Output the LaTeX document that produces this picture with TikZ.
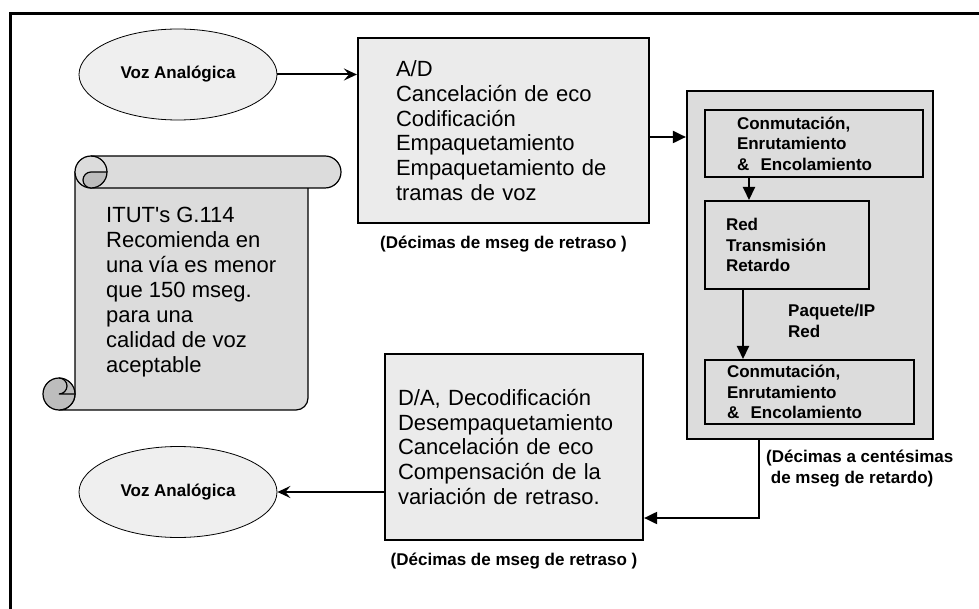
\documentclass[tikz,border=0pt]{standalone}
\usepackage{fontspec}
\setmainfont{Liberation Sans}
\usetikzlibrary{shapes.geometric,positioning,arrows.meta}
\definecolor{grisA}{HTML}{EBEBEB}
\definecolor{grisB}{HTML}{DCDCDC}
\definecolor{grisC}{HTML}{EFEFEF}
\definecolor{grisD}{HTML}{BDBDBD}

\begin{document}
\begin{tikzpicture}[x=1pt,y=1pt,
  caja/.style={draw,line width=2.2pt,fill=grisA,align=left,inner ysep=0pt,
    font=\fontsize{22}{24.7}\selectfont},
  interior/.style={draw,line width=2pt,fill=grisB,align=left,inner ysep=0pt,
    font=\bfseries\fontsize{17}{20.5}\selectfont},
  voz/.style={ellipse,draw,line width=0.8pt,fill=grisC,minimum width=198pt,
    minimum height=91pt,inner sep=0pt,font=\bfseries\fontsize{17}{20}\selectfont},
  etiq/.style={inner sep=0pt,align=left,font=\bfseries\fontsize{17}{20.5}\selectfont},
  rollo/.style={draw,line width=1.2pt,fill=grisB},
  flecha/.style={line width=2pt,-{Triangle[length=13pt,width=12pt]}},
  flechab/.style={line width=2pt,-{Stealth[length=13pt,width=12pt,inset=5pt]}}]
  \useasboundingbox (0,0) rectangle (979,608);
  \draw[line width=3pt] (990,594) -- (10,594) -- (10,-10);

  % pergamino
  \path[rollo] (75,436) -- (75,214) arc[start angle=0,end angle=-90,radius=16]
    -- (296,198) arc[start angle=-90,end angle=0,radius=12] -- (308,436) -- cycle;
  \filldraw[rollo,fill=grisD] (59,214) circle[radius=16];
  \draw[line width=1.2pt] (75,214) -- (59,214) arc[start angle=-90,end angle=90,radius=8];
  \path[rollo] (91,452) -- (325,452) arc[start angle=90,end angle=-90,radius=16]
    -- (91,420) arc[start angle=270,end angle=90,radius=16] -- cycle;
  \draw[line width=1.2pt] (91,452) arc[start angle=90,end angle=0,radius=16];
  \path[rollo,fill=grisD] (107,436) -- (91,436) arc[start angle=90,end angle=270,radius=8]
    arc[start angle=270,end angle=360,radius=16] -- cycle;
  \node[inner sep=0pt,align=left,anchor=west,font=\fontsize{22}{25}\selectfont] (itut)
    at (106,315.7) {ITUT\textquotesingle s G.114\\Recomienda en\\una vía es menor\\
    que 150 mseg.\\para una\\calidad de voz\\aceptable};

  \node[voz] (vozin) at (178,533.5) {Voz Analógica};
  \node[voz] (vozout) at (178,116) {Voz Analógica};

  \node[caja,inner xsep=38pt,text width=215pt,minimum height=185pt] (ad) at (503.5,477.5)
    {A/D\\Cancelación de eco\\Codificación\\Empaquetamiento\\Empaquetamiento de\\tramas de voz};
  \node[etiq,below=12pt of ad] (retraso1) {(Décimas de mseg de retraso )};

  \node[caja,inner xsep=13pt,text width=232pt,minimum height=186pt] (da) at (514,161)
    {D/A, Decodificación\\Desempaquetamiento\\Cancelación de eco\\Compensación de la\\variación de retraso.};
  \node[etiq,below=12pt of da] (retraso2) {(Décimas de mseg de retraso )};

  \node[draw,line width=2.2pt,fill=grisB,minimum width=246pt,minimum height=348pt] (red) at (810,343) {};
  \node[interior,inner xsep=32pt,text width=154pt,minimum height=67pt] (conm1) at (814,464.5)
    {Conmutación,\\Enrutamiento\\\&~~Encolamiento};
  \node[interior,inner xsep=21pt,text width=122pt,minimum height=88pt] (trans) at (787,363)
    {Red\\Transmisión\\Retardo};
  \node[interior,inner xsep=22pt,text width=165pt,minimum height=64pt] (conm2) at (809.5,216)
    {Conmutación,\\Enrutamiento\\\&~~Encolamiento};
  \node[etiq,anchor=north west] (paquete) at (788,304) {Paquete/IP\\Red};
  \node[etiq,anchor=north west] (retardo) at (766,158) {(Décimas a centésimas\\~de mseg de retardo)};

  \coordinate (codo) at (759,90);
  \draw[flechab] (vozin.east) -- (vozin.east -| ad.west);
  \draw[flecha] ([yshift=-6.5pt]ad.east) -- ([yshift=-6.5pt]ad.east -| red.west);
  \draw[flecha] ([xshift=45pt]trans.north west |- conm1.south) -- ([xshift=45pt]trans.north west);
  \draw[flecha] ([xshift=39pt]trans.south west) -- ([xshift=39pt]trans.south west |- conm2.north);
  \draw[flecha] (red.south -| codo) -- (codo) -- (codo -| da.east);
  \draw[flechab] (vozout.east -| da.west) -- (vozout.east);
\end{tikzpicture}
\end{document}
